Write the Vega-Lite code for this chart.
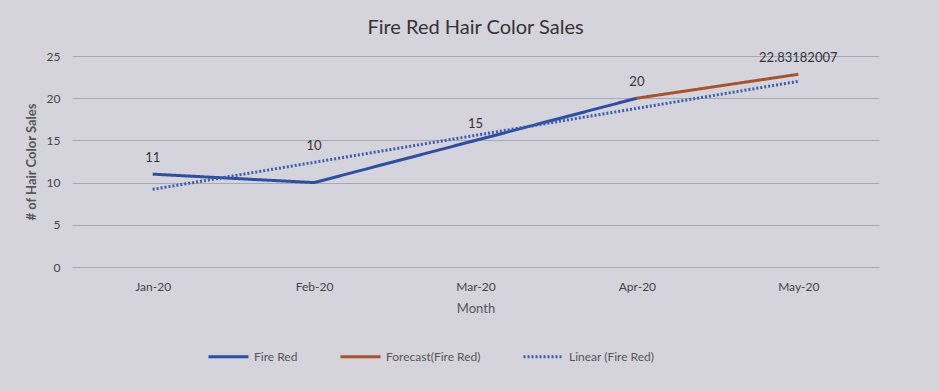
{
  "$schema": "https://vega.github.io/schema/vega-lite/v6.json",
  "autosize": {"type": "fit", "contains": "padding"},
  "width": 939,
  "height": 391,
  "padding": {"left": 25, "top": 18, "right": 60, "bottom": 76},
  "background": "#d5d3dc",
  "config": {
    "font": "Lato",
    "view": {"stroke": null},
    "axis": {"labelColor": "#444", "titleColor": "#555", "labelFont": "Lato", "titleFont": "Lato"}
  },
  "title": {"text": "Fire Red Hair Color Sales", "fontSize": 20, "font": "Lato", "fontWeight": "normal", "color": "#333", "offset": 12},
  "datasets": {
    "series": [
      {"month": "Jan-20", "series": "Fire Red", "value": 11},
      {"month": "Feb-20", "series": "Fire Red", "value": 10},
      {"month": "Mar-20", "series": "Fire Red", "value": 15},
      {"month": "Apr-20", "series": "Fire Red", "value": 20},
      {"month": "Apr-20", "series": "Forecast(Fire Red)", "value": 20},
      {"month": "May-20", "series": "Forecast(Fire Red)", "value": 22.83182007},
      {"month": "Jan-20", "series": "Linear (Fire Red)", "value": 9.2},
      {"month": "Feb-20", "series": "Linear (Fire Red)", "value": 12.4},
      {"month": "Mar-20", "series": "Linear (Fire Red)", "value": 15.6},
      {"month": "Apr-20", "series": "Linear (Fire Red)", "value": 18.8},
      {"month": "May-20", "series": "Linear (Fire Red)", "value": 22.0}
    ],
    "labels": [
      {"month": "Jan-20", "value": 11, "label": "11"},
      {"month": "Feb-20", "value": 12.4, "label": "10"},
      {"month": "Mar-20", "value": 15, "label": "15"},
      {"month": "Apr-20", "value": 20, "label": "20"},
      {"month": "May-20", "value": 22.83182007, "label": "22.83182007"}
    ]
  },
  "encoding": {
    "x": {"field": "month", "type": "ordinal", "sort": ["Jan-20", "Feb-20", "Mar-20", "Apr-20", "May-20"],
          "scale": {"type": "point", "padding": 0.5},
          "axis": {"title": "Month", "labelAngle": 0, "labelFontSize": 12, "titleFontSize": 13, "titleFontWeight": "normal", "domain": false, "ticks": false, "labelPadding": 14, "titlePadding": 10}},
    "y": {"field": "value", "type": "quantitative", "scale": {"domain": [0, 25], "nice": false},
          "axis": {"title": "# of Hair Color Sales", "values": [0, 5, 10, 15, 20, 25], "labelFontSize": 12, "titleFontSize": 13, "titleFontWeight": "bold", "domain": false, "ticks": false, "gridColor": "#a9a7b4", "labelPadding": 12, "titlePadding": 8}}
  },
  "layer": [
    {
      "data": {"name": "series"},
      "mark": {"type": "line", "strokeWidth": 3},
      "encoding": {
        "color": {"field": "series", "type": "nominal",
                  "scale": {"domain": ["Fire Red", "Forecast(Fire Red)", "Linear (Fire Red)"], "range": ["#2d4ea3", "#a9532c", "#3a5cb0"]},
                  "legend": {"title": null, "orient": "none", "legendX": 135, "legendY": 279, "direction": "horizontal", "symbolType": "stroke", "symbolSize": 1600, "symbolStrokeWidth": 3, "labelFontSize": 12, "labelColor": "#555", "columnPadding": 36}},
        "strokeDash": {"field": "series", "type": "nominal",
                       "scale": {"domain": ["Fire Red", "Forecast(Fire Red)", "Linear (Fire Red)"], "range": [[1, 0], [1, 0], [2, 2]]},
                       "legend": {"title": null, "orient": "none", "legendX": 135, "legendY": 279, "direction": "horizontal", "symbolType": "stroke", "symbolSize": 1600, "symbolStrokeWidth": 3, "labelFontSize": 12, "labelColor": "#555", "columnPadding": 36}}
      }
    },
    {
      "data": {"name": "labels"},
      "mark": {"type": "text", "dy": -16, "fontSize": 13, "color": "#333"},
      "encoding": {
        "text": {"field": "label"}
      }
    }
  ]
}
